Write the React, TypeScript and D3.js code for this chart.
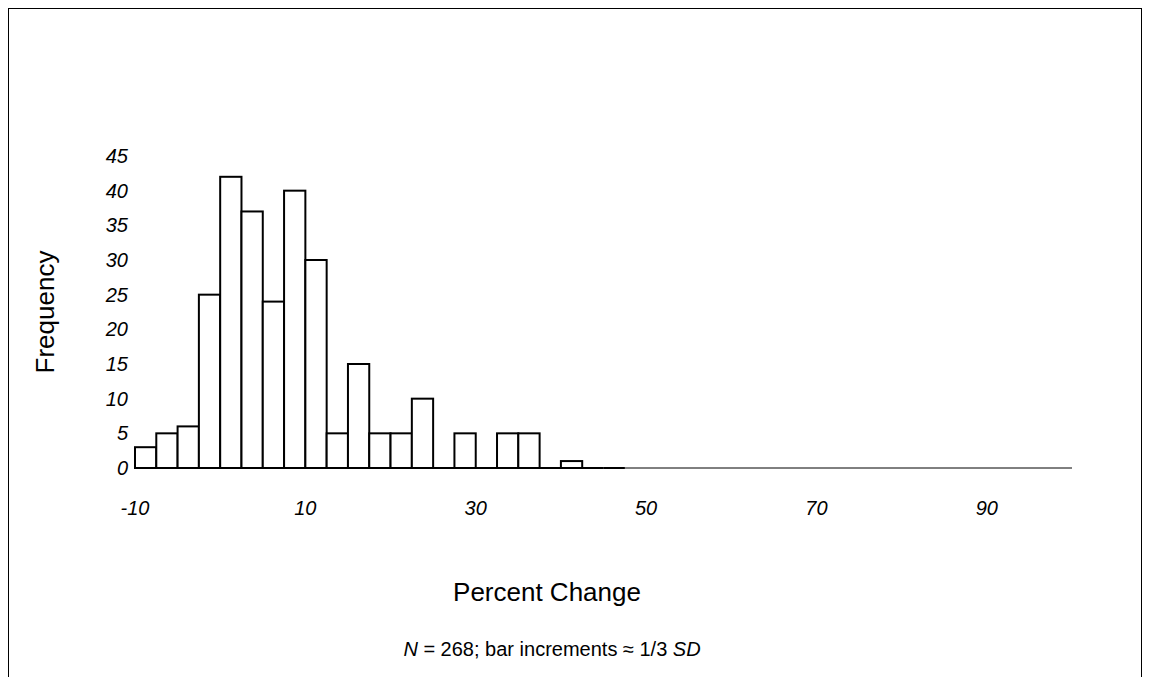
import * as React from "react";
import * as d3 from "d3";

const binStart = -10;
const binWidth = 2.5;
const counts = [3, 5, 6, 25, 42, 37, 24, 40, 30, 5, 15, 5, 5, 10, 0, 5, 0, 5, 5, 0, 1, 0, 0];
const xTicks = [-10, 10, 30, 50, 70, 90];
const yTicks = [0, 5, 10, 15, 20, 25, 30, 35, 40, 45];

const App: React.FunctionComponent = () => {
  const x = d3.scaleLinear().domain([-10, 100]).range([135, 1072]);
  const y = d3.scaleLinear().domain([0, 45]).range([468, 156]);
  const font = "Arial, 'Liberation Sans', sans-serif";

  return (
    <svg width={1134} height={669} style={{ display: "block", fontFamily: font }}>
      <rect x={0.5} y={0.5} width={1133} height={675} fill="#fff" stroke="#000" />
      <line x1={x(-10) - 8} x2={x(100) - 8} y1={y(0) - 8} y2={y(0) - 8} stroke="#000" strokeWidth={1} />
      {counts.map((c, i) => {
        const x0 = x(binStart + i * binWidth);
        const x1 = x(binStart + (i + 1) * binWidth);
        return c > 0 ? (
          <rect key={i} x={x0 - 8} y={y(c) - 8} width={x1 - x0} height={y(0) - y(c)}
            fill="#fff" stroke="#000" strokeWidth={2} />
        ) : (
          <line key={i} x1={x0 - 8} x2={x1 - 8} y1={y(0) - 8} y2={y(0) - 8} stroke="#000" strokeWidth={2} />
        );
      })}
      {yTicks.map((t) => (
        <text key={t} x={120} y={y(t) - 8} dy="0.35em" textAnchor="end" fontSize={20} fontStyle="italic">{t}</text>
      ))}
      {xTicks.map((t) => (
        <text key={t} x={x(t) - 8} y={507} textAnchor="middle" fontSize={20} fontStyle="italic">{t}</text>
      ))}
      <text transform={`translate(${54 - 8},${312 - 8}) rotate(-90)`} textAnchor="middle" fontSize={26}>Frequency</text>
      <text x={547 - 8} y={601 - 8} textAnchor="middle" fontSize={26}>Percent Change</text>
      <text x={552 - 8} y={656 - 8} textAnchor="middle" fontSize={20}>
        <tspan fontStyle="italic">N</tspan> = 268; bar increments ≈ 1/3 <tspan fontStyle="italic">SD</tspan>
      </text>
    </svg>
  );
};

export default App;
